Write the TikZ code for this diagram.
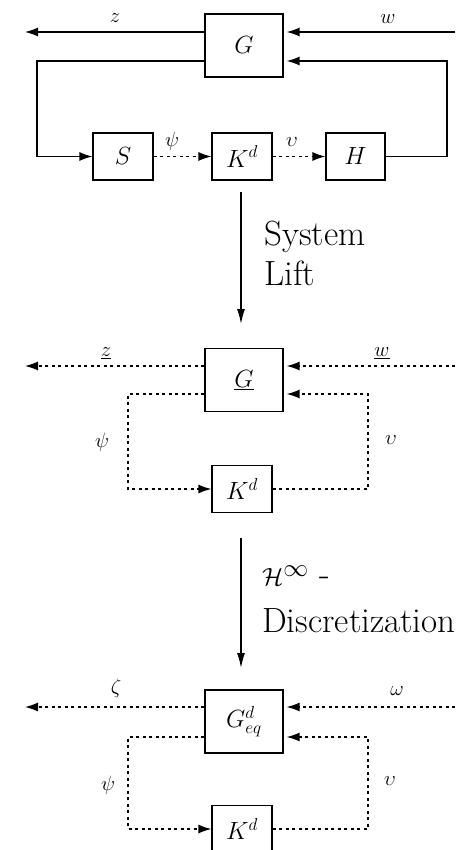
\documentclass[tikz,border=0pt]{standalone}
\usepackage{tikz}
\usetikzlibrary{positioning,arrows.meta,calc}

\begin{document}
\begin{tikzpicture}[x=1pt,y=-1pt,
  blk/.style={draw,line width=1.2pt,minimum width=78pt,minimum height=63pt,inner sep=0pt,font=\fontsize{27}{31}\selectfont},
  sblk/.style={blk,minimum width=60pt,minimum height=47pt},
  sig/.style={line width=1.3pt},
  lft/.style={sig,dash pattern=on 3pt off 3.5pt},
  arr/.style={-{Latex[length=13pt,width=9pt]}},
  bigarr/.style={sig,-{Latex[length=15pt,width=8pt]}},
  lbl/.style={font=\fontsize{22}{26}\selectfont,inner sep=0pt},
  txt/.style={font=\fontsize{35}{40}\selectfont,anchor=west,inner sep=0pt}]
  \useasboundingbox (0,0) rectangle (455,850);
  \clip (0,0) rectangle (455,850);
  % original sampled loop
  \node[blk] (G1) at (244,45.5) {$G$};
  \node[sblk] (S) at (123,156.5) {$S$};
  \node[sblk] (K1) at (242,156.5) {$K^d$};
  \node[sblk,minimum width=59pt] (H) at (355.5,156.5) {$H$};
  \coordinate (z1) at (25,32);
  \coordinate (w1) at (455,32);
  \coordinate (l1) at (37,61);
  \coordinate (r1) at (447,61);
  \draw[sig,arr] (G1.west |- z1) -- (z1);
  \draw[sig,arr,shorten >=3pt] (w1) -- (G1.east |- w1);
  \draw[sig,arr] (G1.west |- l1) -- (l1) |- (S);
  \draw[sig,arr,shorten >=3pt] (H) -| (r1) -- (G1.east |- r1);
  \draw[lft,arr] (S) -- (K1);
  \draw[lft,arr] (K1) -- (H);
  \node[lbl] (zl1) at (115,18) {$z$};
  \node[lbl] (wl1) at (388,19) {$w$};
  \node[lbl] (psil1) at (172,141) {$\psi$};
  \node[lbl] (nul1) at (292,142) {$\upsilon$};

  \coordinate (a1) at (241,192);
  \coordinate (b1) at (241,324);
  \draw[bigarr] (a1) -- (b1);
  \node[txt] (sys) at (264,237) {System};
  \node[txt] (lift) at (264,273) {Lift};

  % lifted loop
  \node[blk] (G2) at (244,380) {$\underline{G}$};
  \node[sblk] (K2) at (242,489) {$K^d$};
  \coordinate (z2) at (25,366);
  \coordinate (w2) at (455,366);
  \coordinate (l2) at (128,394);
  \coordinate (r2) at (368,394);
  \draw[lft,arr] (G2.west |- z2) -- (z2);
  \draw[lft,arr,shorten >=3pt] (w2) -- (G2.east |- w2);
  \draw[lft,arr] (G2.west |- l2) -- (l2) |- (K2);
  \draw[lft,arr,shorten >=3pt] (K2) -| (r2) -- (G2.east |- r2);
  \node[lbl] (zl2) at (106,353) {$\underline{z}$};
  \node[lbl] (wl2) at (382,353) {$\underline{w}$};
  \node[lbl] (psil2) at (102,442) {$\psi$};
  \node[lbl] (nul2) at (391,440) {$\upsilon$};

  \coordinate (a2) at (241,538);
  \coordinate (b2) at (241,668);
  \draw[bigarr] (a2) -- (b2);
  \node[txt] (hinf) at (262,576) {$\mathcal{H}^\infty$ -};
  \node[txt] (disc) at (262,621) {Discretization};

  % discretized loop
  \node[blk] (G3) at (244,721.5) {$G^d_{eq}$};
  \node[sblk] (K3) at (242,829) {$K^d$};
  \coordinate (z3) at (25,707);
  \coordinate (w3) at (455,707);
  \coordinate (l3) at (128,737);
  \coordinate (r3) at (368,737);
  \draw[lft,arr] (G3.west |- z3) -- (z3);
  \draw[lft,arr,shorten >=3pt] (w3) -- (G3.east |- w3);
  \draw[lft,arr] (G3.west |- l3) -- (l3) |- (K3);
  \draw[lft,arr,shorten >=3pt] (K3) -| (r3) -- (G3.east |- r3);
  \node[lbl] (zl3) at (116,688) {$\zeta$};
  \node[lbl] (wl3) at (397,691) {$\omega$};
  \node[lbl] (psil3) at (108,785) {$\psi$};
  \node[lbl] (nul3) at (390,781) {$\upsilon$};
\end{tikzpicture}
\end{document}
